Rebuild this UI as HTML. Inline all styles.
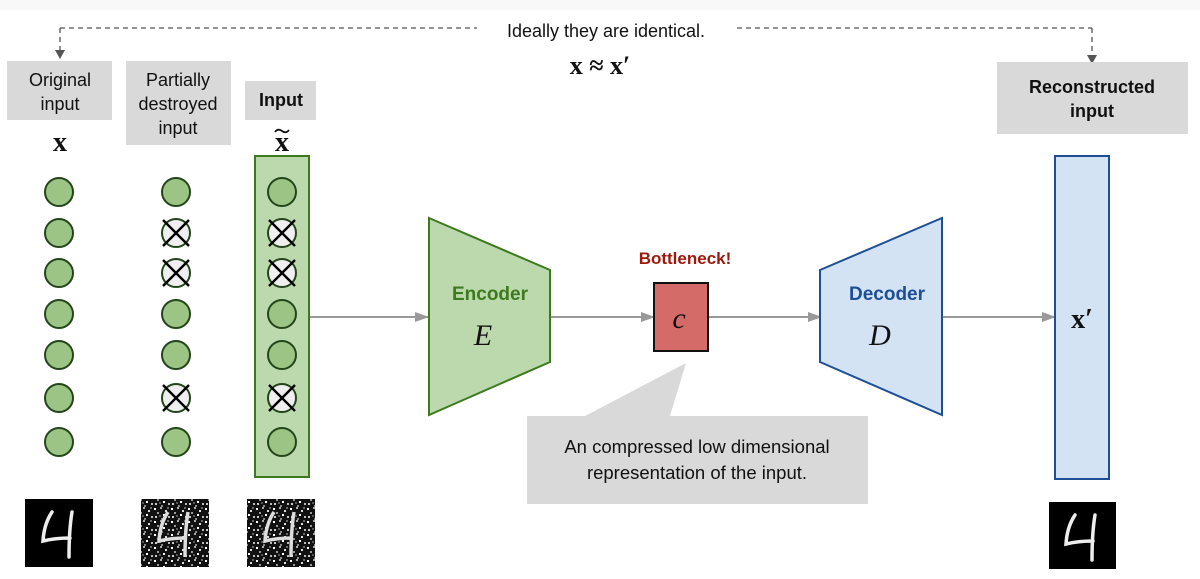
<!DOCTYPE html>
<html><head><meta charset="utf-8"><style>
html,body{margin:0;padding:0;background:#fff;}
body{width:1200px;height:579px;overflow:hidden;position:relative;font-family:"Liberation Sans",sans-serif;}
</style></head><body>
<svg width="1200" height="579" viewBox="0 0 1200 579" xmlns="http://www.w3.org/2000/svg" style="position:absolute;left:0;top:0">
<defs>
<marker id="ag" markerWidth="14" markerHeight="10" refX="13" refY="5" orient="auto" markerUnits="userSpaceOnUse">
<path d="M0,0 L14,5 L0,10 z" fill="#999"/></marker>
<pattern id="noise" width="17" height="13" patternUnits="userSpaceOnUse">
<rect width="17" height="13" fill="#111"/>
<rect x="1" y="1" width="2" height="2" fill="#fff"/><rect x="7" y="0" width="2" height="2" fill="#aaa"/>
<rect x="12" y="3" width="2" height="2" fill="#ddd"/><rect x="4" y="5" width="2" height="2" fill="#999"/>
<rect x="10" y="7" width="2" height="2" fill="#fff"/><rect x="15" y="9" width="2" height="2" fill="#bbb"/>
<rect x="2" y="9" width="2" height="2" fill="#ccc"/><rect x="8" y="11" width="2" height="2" fill="#888"/>
<rect x="14" y="0" width="2" height="2" fill="#666"/><rect x="6" y="8" width="2" height="2" fill="#555"/>
</pattern>
</defs>
<rect x="0" y="0" width="1200" height="10" fill="#f8f8f8"/>
<path d="M60,28 H477 M737,28 H1092" stroke="#555" stroke-width="1.3" stroke-dasharray="5,4" fill="none"/>
<path d="M60,28 V52" stroke="#555" stroke-width="1.3" stroke-dasharray="5,4"/>
<path d="M55,50 L65,50 L60,59 z" fill="#555"/>
<path d="M1092,28 V58" stroke="#555" stroke-width="1.3" stroke-dasharray="5,4"/>
<path d="M1087,55 L1097,55 L1092,64 z" fill="#555"/>
<text x="606" y="37" font-size="18" text-anchor="middle" fill="#111">Ideally they are identical.</text>
<text x="600" y="74" font-size="26" font-weight="bold" text-anchor="middle" font-family="Liberation Serif,serif" fill="#111">x ≈ x′</text>
<rect x="7" y="61" width="105" height="59" fill="#d9d9d9"/>
<text x="60" y="86" font-size="18" text-anchor="middle" fill="#111">Original</text>
<text x="60" y="110" font-size="18" text-anchor="middle" fill="#111">input</text>
<rect x="126" y="61" width="105" height="84" fill="#d9d9d9"/>
<text x="178" y="86" font-size="18" text-anchor="middle" fill="#111">Partially</text>
<text x="178" y="110" font-size="18" text-anchor="middle" fill="#111">destroyed</text>
<text x="178" y="134" font-size="18" text-anchor="middle" fill="#111">input</text>
<rect x="245" y="81" width="71" height="39" fill="#d9d9d9"/>
<text x="281" y="106" font-size="18" font-weight="bold" text-anchor="middle" fill="#111">Input</text>
<rect x="997" y="62" width="191" height="72" fill="#d9d9d9"/>
<text x="1092" y="93" font-size="18" font-weight="bold" text-anchor="middle" fill="#111">Reconstructed</text>
<text x="1092" y="117" font-size="18" font-weight="bold" text-anchor="middle" fill="#111">input</text>
<text x="60" y="151" font-size="28" font-weight="bold" text-anchor="middle" font-family="Liberation Serif,serif" fill="#111">x</text>
<text x="282" y="151" font-size="28" font-weight="bold" text-anchor="middle" font-family="Liberation Serif,serif" fill="#111">x</text>
<path d="M275,132 Q278,128 282,131 Q286,134 289,130" stroke="#111" stroke-width="1.8" fill="none"/>
<rect x="255" y="156" width="54" height="321" fill="#bcd8ad" stroke="#3d7a1e" stroke-width="2"/>
<g stroke="#23451a" stroke-width="2" fill="#9cc485">
<circle cx="59" cy="192" r="14"/><circle cx="59" cy="233" r="14"/><circle cx="59" cy="273" r="14"/><circle cx="59" cy="314" r="14"/><circle cx="59" cy="355" r="14"/><circle cx="59" cy="398" r="14"/><circle cx="59" cy="442" r="14"/>
<circle cx="176" cy="192" r="14"/><circle cx="176" cy="314" r="14"/><circle cx="176" cy="355" r="14"/><circle cx="176" cy="442" r="14"/>
<circle cx="282" cy="192" r="14"/><circle cx="282" cy="314" r="14"/><circle cx="282" cy="355" r="14"/><circle cx="282" cy="442" r="14"/>
</g>
<g stroke="#23451a" stroke-width="2" fill="#efefef">
<circle cx="176" cy="233" r="14"/><circle cx="176" cy="273" r="14"/><circle cx="176" cy="398" r="14"/>
<circle cx="282" cy="233" r="14"/><circle cx="282" cy="273" r="14"/><circle cx="282" cy="398" r="14"/>
</g>
<g stroke="#000" stroke-width="2.4">
<path d="M163,220 L189,246 M189,220 L163,246"/><path d="M163,260 L189,286 M189,260 L163,286"/><path d="M163,385 L189,411 M189,385 L163,411"/>
<path d="M269,220 L295,246 M295,220 L269,246"/><path d="M269,260 L295,286 M295,260 L269,286"/><path d="M269,385 L295,411 M295,385 L269,411"/>
</g>
<g stroke="#999" stroke-width="2" fill="none">
<line x1="310" y1="317" x2="428" y2="317" marker-end="url(#ag)"/>
<line x1="550" y1="317" x2="654" y2="317" marker-end="url(#ag)"/>
<line x1="709" y1="317" x2="821" y2="317" marker-end="url(#ag)"/>
<line x1="943" y1="317" x2="1055" y2="317" marker-end="url(#ag)"/>
</g>
<polygon points="429,218 550,270 550,362 429,415" fill="#bcd8ad" stroke="#3d7a1e" stroke-width="2"/>
<text x="490" y="300" font-size="19" font-weight="bold" text-anchor="middle" fill="#3d7a1e">Encoder</text>
<text x="483" y="345" font-size="30" font-style="italic" text-anchor="middle" font-family="Liberation Serif,serif" fill="#111">E</text>
<text x="685" y="264" font-size="17" font-weight="bold" text-anchor="middle" fill="#9b1a0d">Bottleneck!</text>
<rect x="654" y="283" width="54" height="68" fill="#d46b69" stroke="#111" stroke-width="2"/>
<text x="679" y="328" font-size="30" font-style="italic" text-anchor="middle" font-family="Liberation Serif,serif" fill="#111">c</text>
<polygon points="820,270 942,218 942,415 820,362" fill="#d3e3f3" stroke="#1d4e96" stroke-width="2"/>
<text x="887" y="300" font-size="19" font-weight="bold" text-anchor="middle" fill="#1d4e96">Decoder</text>
<text x="880" y="345" font-size="30" font-style="italic" text-anchor="middle" font-family="Liberation Serif,serif" fill="#111">D</text>
<polygon points="527,416 585,416 686,363 670,416 868,416 868,504 527,504" fill="#d9d9d9"/>
<text x="697" y="453" font-size="18.5" text-anchor="middle" fill="#111">An compressed low dimensional</text>
<text x="697" y="479" font-size="18.5" text-anchor="middle" fill="#111">representation of the input.</text>
<rect x="1055" y="156" width="54" height="323" fill="#d3e3f3" stroke="#1d4e96" stroke-width="2"/>
<text x="1082" y="328" font-size="28" font-weight="bold" text-anchor="middle" font-family="Liberation Serif,serif" fill="#111">x′</text>
<rect x="25" y="499" width="68" height="68" fill="#000"/>
<path d="M52,512 Q44,524 43,541 Q55,538 70,538 M72,512 Q69,530 69,557" stroke="#eee" stroke-width="3.5" fill="none" stroke-linecap="round"/>
<rect x="141" y="499" width="68" height="68" fill="url(#noise)"/>
<path d="M168,512 Q160,524 159,541 Q171,538 186,538 M188,512 Q185,530 185,557" stroke="#ddd" stroke-width="3.5" fill="none"/>
<rect x="247" y="499" width="68" height="68" fill="url(#noise)"/>
<path d="M274,512 Q266,524 265,541 Q277,538 292,538 M294,512 Q291,530 291,557" stroke="#ddd" stroke-width="3.5" fill="none"/>
<rect x="1049" y="502" width="67" height="67" fill="#000"/>
<path d="M1075,515 Q1067,527 1066,544 Q1078,541 1093,541 M1095,515 Q1092,533 1092,560" stroke="#eee" stroke-width="3.5" fill="none" stroke-linecap="round"/>
</svg>
</body></html>
